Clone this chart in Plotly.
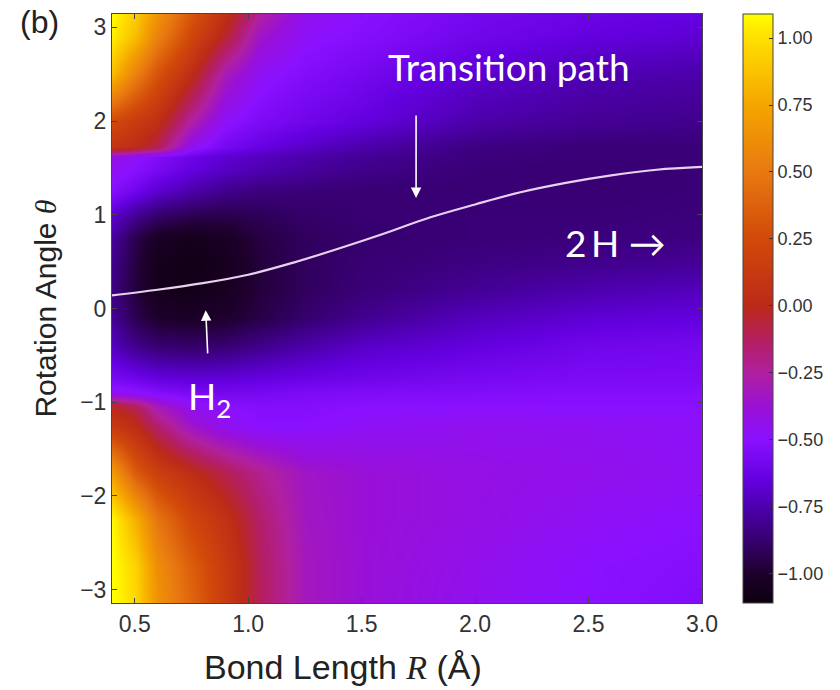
import plotly.graph_objects as go

# Grid (energy values)
R_GRID = [0.4, 0.5, 0.6, 0.75, 0.9, 1.05, 1.25, 1.5, 2.0, 2.5, 3.0]
THETA_GRID = [-3.1416, -2.75, -2.25, -1.75, -1.25, -1.05, -0.9, -0.75, -0.4, -0.1,
              0.2, 0.5, 0.75, 1.0, 1.25, 1.5, 1.62, 1.72, 2.0, 2.5, 2.9, 3.1416]
ENERGY = [
    [1.10, 0.97, 0.65, 0.40, 0.14, -0.12, -0.32, -0.38, -0.45, -0.50, -0.53],
    [1.10, 0.95, 0.62, 0.36, 0.13, -0.12, -0.32, -0.38, -0.44, -0.50, -0.52],
    [1.08, 0.80, 0.48, 0.22, 0.06, -0.15, -0.33, -0.38, -0.42, -0.47, -0.50],
    [0.70, 0.35, 0.17, 0.03, -0.10, -0.22, -0.34, -0.38, -0.42, -0.44, -0.47],
    [0.12, 0.02, -0.15, -0.35, -0.45, -0.50, -0.50, -0.47, -0.45, -0.46, -0.48],
    [0.00, -0.10, -0.30, -0.45, -0.50, -0.52, -0.52, -0.50, -0.50, -0.50, -0.50],
    [-0.45, -0.48, -0.52, -0.56, -0.58, -0.57, -0.55, -0.54, -0.53, -0.52, -0.52],
    [-0.56, -0.60, -0.64, -0.66, -0.66, -0.64, -0.62, -0.60, -0.57, -0.55, -0.55],
    [-0.72, -0.82, -0.87, -0.89, -0.87, -0.82, -0.76, -0.70, -0.65, -0.60, -0.58],
    [-0.80, -0.93, -1.00, -1.02, -1.00, -0.95, -0.88, -0.81, -0.72, -0.67, -0.65],
    [-0.84, -0.97, -1.06, -1.08, -1.04, -0.97, -0.91, -0.86, -0.80, -0.75, -0.72],
    [-0.82, -0.96, -1.06, -1.09, -1.05, -0.97, -0.91, -0.87, -0.84, -0.82, -0.80],
    [-0.78, -0.94, -1.03, -1.06, -1.03, -0.96, -0.91, -0.88, -0.86, -0.85, -0.84],
    [-0.68, -0.80, -0.88, -0.93, -0.94, -0.92, -0.89, -0.87, -0.86, -0.86, -0.85],
    [-0.52, -0.60, -0.68, -0.76, -0.82, -0.85, -0.86, -0.87, -0.87, -0.87, -0.86],
    [-0.45, -0.50, -0.56, -0.64, -0.70, -0.74, -0.78, -0.82, -0.86, -0.87, -0.86],
    [-0.42, -0.48, -0.54, -0.62, -0.68, -0.72, -0.76, -0.80, -0.85, -0.86, -0.86],
    [0.08, 0.02, -0.10, -0.45, -0.58, -0.64, -0.70, -0.76, -0.84, -0.86, -0.86],
    [0.25, 0.14, 0.05, -0.25, -0.48, -0.55, -0.60, -0.65, -0.76, -0.80, -0.82],
    [0.85, 0.55, 0.30, 0.03, -0.30, -0.47, -0.53, -0.58, -0.68, -0.74, -0.76],
    [1.05, 0.85, 0.55, 0.22, -0.05, -0.35, -0.48, -0.52, -0.60, -0.65, -0.68],
    [1.09, 0.92, 0.65, 0.32, 0.05, -0.25, -0.45, -0.50, -0.58, -0.62, -0.64],
]

# Transition path
PATH_R = [0.4, 0.6, 0.8, 1.0, 1.2, 1.4, 1.6, 1.8, 2.0, 2.2, 2.4, 2.6, 2.8, 3.0]
PATH_THETA = [0.14, 0.20, 0.27, 0.36, 0.49, 0.64, 0.80, 0.97, 1.11, 1.24, 1.34, 1.42, 1.48, 1.51]

X_TICKS = [0.5, 1.0, 1.5, 2.0, 2.5, 3.0]
X_TICKTEXT = ["0.5", "1.0", "1.5", "2.0", "2.5", "3.0"]
Y_TICKS = [-3, -2, -1, 0, 1, 2, 3]
Y_TICKTEXT = ["\u22123", "\u22122", "\u22121", "0", "1", "2", "3"]
CB_TICKS = [-1.0, -0.75, -0.5, -0.25, 0.0, 0.25, 0.5, 0.75, 1.0]
CB_TICKTEXT = ["\u22121.00", "\u22120.75", "\u22120.50", "\u22120.25", "0.00", "0.25", "0.50", "0.75", "1.00"]

ZMIN, ZMAX = -1.11, 1.09

colorscale = [
    [0.0, "#0d0010"], [0.05, "#1e002c"], [0.10, "#340068"], [0.165, "#4e00b0"],
    [0.21, "#6400e0"], [0.277, "#8a10ff"], [0.33, "#9810d8"], [0.39, "#b020a0"],
    [0.44, "#b41e68"], [0.505, "#bb2a18"], [0.62, "#d24a0a"], [0.73, "#e87810"],
    [0.845, "#f5a500"], [0.96, "#ffe000"], [1.0, "#ffff00"],
]

PLOT_L, PLOT_R, PLOT_T, PLOT_B = 112, 705, 14, 603
PW, PH = PLOT_R - PLOT_L, PLOT_B - PLOT_T


def px(xp):
    return (xp - PLOT_L) / PW


def py(yp):
    return (PLOT_B - yp) / PH


fig = go.Figure()
fig.add_trace(go.Heatmap(
    x=R_GRID, y=THETA_GRID, z=ENERGY, zsmooth="best",
    zmin=ZMIN, zmax=ZMAX, colorscale=colorscale,
    colorbar=dict(
        x=px(746), xanchor="left", xpad=0, y=0.5, yanchor="middle", ypad=0,
        len=1.0, lenmode="fraction", thickness=30, outlinewidth=1, outlinecolor="#444",
        tickvals=CB_TICKS, ticktext=CB_TICKTEXT, ticks="inside", ticklen=4,
        tickcolor="#333", tickfont=dict(family="Liberation Sans, Arial", size=18, color="#333"),
    ),
    hoverinfo="skip",
))
fig.add_trace(go.Scatter(
    x=PATH_R, y=PATH_THETA, mode="lines", line=dict(color="#e6d2ee", width=2.2, shape="spline"),
    showlegend=False, hoverinfo="skip",
))

axis_common = dict(showgrid=False, zeroline=False, showline=True, linecolor="#444", linewidth=1,
                   mirror="ticks", ticks="inside", ticklen=5, tickcolor="#444",
                   tickfont=dict(family="Liberation Sans, Arial", size=23, color="#333"))

fig.update_layout(
    width=840, height=690,
    margin=dict(l=PLOT_L, r=840 - PLOT_R, t=PLOT_T, b=690 - PLOT_B),
    paper_bgcolor="white", plot_bgcolor="white",
    showlegend=False,
    xaxis=dict(range=[0.4, 3.0], tickvals=X_TICKS, ticktext=X_TICKTEXT, **axis_common),
    yaxis=dict(range=[-3.1416, 3.1416], tickvals=Y_TICKS, ticktext=Y_TICKTEXT,
               title=dict(text="Rotation Angle <span style=\"font-family:'Liberation Serif'\"><i>\u03b8</i></span>",
                          font=dict(family="Liberation Sans, Arial", size=30, color="#222"), standoff=14),
               **axis_common),
)

# x-axis title (placed left of centre as in the reference)
fig.add_annotation(x=px(344), y=py(667), xref="paper", yref="paper",
                   text="Bond Length <span style=\"font-family:'Liberation Serif'\"><i>R</i></span> (\u00c5)",
                   showarrow=False, xanchor="center", yanchor="middle",
                   font=dict(family="Liberation Sans, Arial", size=34, color="#222"))
fig.add_annotation(x=px(39), y=py(22), xref="paper", yref="paper", text="(b)", showarrow=False,
                   xanchor="center", yanchor="middle",
                   font=dict(family="Liberation Sans, Arial", size=32, color="#222"))

lato = dict(family="Lato, Open Sans, sans-serif", size=37, color="white")
fig.add_annotation(x=2.15, y=2.58, text="Transition path", showarrow=False, font=lato,
                   xanchor="center", yanchor="middle")
fig.add_annotation(x=1.74, y=1.18, ax=0, ay=-84, text="", showarrow=True,
                   arrowhead=2, arrowsize=1.3, arrowwidth=1.6, arrowcolor="white")
fig.add_annotation(x=2.62, y=0.70, text="2\u2009H \u2192", showarrow=False, font=lato,
                   xanchor="center", yanchor="middle")
fig.add_annotation(x=0.813, y=-0.02, ax=4, ay=88, text="H<sub>2</sub>", showarrow=True,
                   startstandoff=18, standoff=0,
                   arrowhead=2, arrowsize=1.3, arrowwidth=1.6, arrowcolor="white", font=lato)

fig.write_html("out.html")
